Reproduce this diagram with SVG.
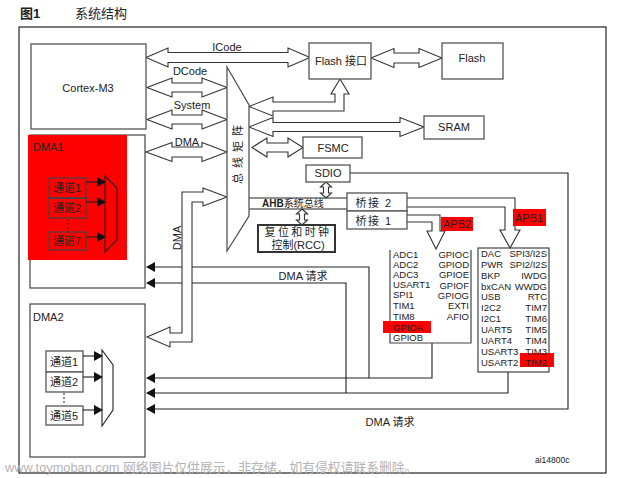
<svg xmlns="http://www.w3.org/2000/svg" width="618" height="478" viewBox="0 0 618 478">
<defs>
<style>
.t{font-family:"Liberation Sans","Noto Sans CJK SC",sans-serif;font-size:11px;fill:#222}
.s{font-size:9.5px}
.m{text-anchor:middle}
.e{text-anchor:end}
.box{fill:#fff;stroke:#555;stroke-width:1.3}
.nb{fill:none;stroke:#444;stroke-width:1.2}
.ln{fill:none;stroke:#222;stroke-width:1.1}
.ha{fill:#fff;stroke:#333;stroke-width:1.1;stroke-linejoin:miter}
.red{fill:#ff0000}
</style>
<marker id="ah" markerWidth="9" markerHeight="10" refX="8" refY="5" orient="auto" markerUnits="userSpaceOnUse">
<path d="M0,0 L9,5 L0,10 Z" fill="#111"/>
</marker>
</defs>
<rect width="618" height="478" fill="#fff"/>
<text class="t" x="20" y="18" style="font-size:13px;font-weight:bold">图1</text>
<text class="t" x="75" y="18" style="font-size:13px">系统结构</text>
<rect x="19" y="27" width="587" height="446" fill="none" stroke="#333" stroke-width="1.3"/>

<g id="connectors">
<polygon class="ha" points="146,57.5 168,48 168,52.5 288,52.5 288,48 310,57.5 288,67 288,62.5 168,62.5 168,67"/>
<polygon class="ha" points="147,87.5 172,78 172,83 202,83 202,78 227,87.5 202,97 202,92 172,92 172,97"/>
<polygon class="ha" points="147,119.5 172,110 172,115 202,115 202,110 227,119.5 202,129 202,124 172,124 172,129"/>
<polygon class="ha" points="146,152 172,142.5 172,147 202,147 202,142.5 227,152 202,161.5 202,157 172,157 172,161.5"/>
<polygon class="ha" points="371,58 394,48.5 394,53 419,53 419,48.5 442,58 419,67.5 419,63 394,63 394,67.5"/>
<polygon class="ha" points="249,106.5 273,97 273,102 335,102 335,94 331,94 340,79 349,94 344,94 344,111 273,111 273,116"/>
<polygon class="ha" points="249,127 273,117.5 273,122.5 400,122.5 400,117.5 424,127 400,136.5 400,131.5 273,131.5 273,136.5"/>
<polygon class="ha" points="252,147.5 267,138 267,143 288,143 288,138 303,147.5 288,157 288,152 267,152 267,157"/>
<polygon class="ha" points="326,182 331.5,187 328.5,187 328.5,193 331.5,193 326,198 320.5,193 323.5,193 323.5,187 320.5,187"/>
<polygon class="ha" points="302,209 307.5,214 304.5,214 304.5,220 307.5,220 302,225 296.5,220 299.5,220 299.5,214 296.5,214"/>
<path class="ha" d="M407,198 H515 V230 H520 L510,248 L500,230 H505 V207 H407"/>
<path class="ha" d="M407,215 H440 V231 H445 L436,249 L427,231 H432 V222 H407"/>
<line class="ln" x1="249" y1="198" x2="347" y2="198"/>
<line class="ln" x1="249" y1="209" x2="347" y2="209"/>
<path class="ln" d="M432,343 V378 H147" marker-end="url(#ah)"/>
<path class="ln" d="M369,378 V267 H147" marker-end="url(#ah)"/>
<path class="ln" d="M508,372 V393 H147" marker-end="url(#ah)"/>
<path class="ln" d="M346,393 V283 H147" marker-end="url(#ah)"/>
<path class="ln" d="M350,173 H568 V409 H147" marker-end="url(#ah)"/>
<polygon class="ha" points="227,197 203,188 203,192 182,192 182,333 170,333 170,327 147,337 170,347 170,342 192,342 192,202 203,202 203,206"/>
</g>

<text class="t m" x="227" y="51">ICode</text>
<text class="t m" x="190" y="75">DCode</text>
<text class="t m" x="192" y="109">System</text>
<text class="t m" x="187" y="146">DMA</text>
<text class="t m" transform="translate(181,238) rotate(-90)">DMA</text>
<text class="t m" x="303" y="280">DMA 请求</text>
<text class="t m" x="390" y="426">DMA 请求</text>
<text class="t" x="262" y="207" style="font-size:10px"><tspan style="font-weight:bold">AHB</tspan>系统总线</text>

<g id="cortex"><rect class="box" x="31" y="44" width="115" height="85"/><text class="t m" x="88" y="92">Cortex-M3</text></g>
<g id="busmatrix"><polygon class="box" points="227,67 249,105 249,216 227,251"/><text class="t" transform="translate(242,184) rotate(-90)" style="letter-spacing:5px">总线矩阵</text></g>
<g id="flashif"><rect class="box" x="309" y="43" width="62" height="36"/><text class="t m" x="341" y="65">Flash 接口</text></g>
<g id="flash"><rect class="box" x="442" y="43" width="61" height="36"/><text class="t m" x="472" y="62">Flash</text></g>
<g id="sram"><rect class="box" x="424" y="116" width="60" height="23"/><text class="t m" x="454" y="131">SRAM</text></g>
<g id="fsmc"><rect class="box" x="303" y="137" width="59" height="21"/><text class="t m" x="333" y="152">FSMC</text></g>
<g id="sdio"><rect class="box" x="306" y="165" width="44" height="17"/><text class="t m" x="328" y="177">SDIO</text></g>
<g id="bridge2"><rect class="box" x="347" y="193" width="60" height="18"/><text class="t m" x="374" y="207" style="letter-spacing:1.5px">桥接 2</text></g>
<g id="bridge1"><rect class="box" x="347" y="211" width="60" height="18"/><text class="t m" x="374" y="225" style="letter-spacing:1.5px">桥接 1</text></g>
<g id="rcc"><rect x="258" y="225" width="77" height="27" fill="#fff" stroke="#333" stroke-width="2"/>
<text class="t m" x="298" y="236" style="letter-spacing:2.4px">复位和时钟</text><text class="t m" x="298" y="249">控制(RCC)</text></g>

<g id="dma1">
<rect class="nb" x="30" y="135" width="115" height="153"/>
<rect class="red" x="28" y="135" width="99" height="125"/>
<text class="t" x="33" y="151">DMA1</text>
<rect class="nb" x="49" y="178" width="37" height="20" stroke="#222"/>
<rect class="nb" x="49" y="198" width="37" height="20" stroke="#222"/>
<rect class="nb" x="49" y="232" width="37" height="18" stroke="#222"/>
<text class="t m" x="67" y="192">通道1</text>
<text class="t m" x="67" y="212">通道2</text>
<text class="t m" x="67" y="245">通道7</text>
<line x1="68" y1="219" x2="68" y2="231" stroke="#222" stroke-dasharray="2,2"/>
<line class="ln" x1="86" y1="182" x2="105" y2="182" marker-end="url(#ah)"/>
<line class="ln" x1="86" y1="202" x2="105" y2="202" marker-end="url(#ah)"/>
<line class="ln" x1="86" y1="237" x2="105" y2="237" marker-end="url(#ah)"/>
<polygon points="105,176 117,188 117,240 105,252" fill="none" stroke="#222" stroke-width="1.1"/>
</g>

<g id="dma2">
<rect class="nb" x="30" y="304" width="115" height="153"/>
<text class="t" x="33" y="321">DMA2</text>
<rect class="box" x="46" y="351" width="37" height="21" stroke="#333"/>
<rect class="box" x="46" y="372" width="37" height="20" stroke="#333"/>
<rect class="box" x="46" y="406" width="37" height="19" stroke="#333"/>
<text class="t m" x="64" y="366">通道1</text>
<text class="t m" x="64" y="386">通道2</text>
<text class="t m" x="64" y="420">通道5</text>
<line x1="64" y1="393" x2="64" y2="405" stroke="#222" stroke-dasharray="2,2"/>
<line class="ln" x1="83" y1="356" x2="102" y2="356" marker-end="url(#ah)"/>
<line class="ln" x1="83" y1="377" x2="102" y2="377" marker-end="url(#ah)"/>
<line class="ln" x1="83" y1="410" x2="102" y2="410" marker-end="url(#ah)"/>
<polygon points="102,350 113,365 113,410 102,426" fill="none" stroke="#222" stroke-width="1.1"/>
</g>

<g id="apb2">
<path class="nb" d="M390,250 V343 H471 V250"/>
<rect class="red" x="383" y="321" width="48" height="12"/>
<rect class="red" x="441" y="217" width="32" height="14"/>
<text class="t" x="443" y="228">APB2</text>
<g class="t s">
<text x="393" y="258">ADC1</text><text x="393" y="268">ADC2</text><text x="393" y="278">ADC3</text>
<text x="393" y="288">USART1</text><text x="393" y="298">SPI1</text><text x="393" y="309">TIM1</text>
<text x="393" y="320">TIM8</text><text x="393" y="331">GPIOA</text><text x="393" y="341">GPIOB</text>
<text class="e" x="469" y="258">GPIOC</text><text class="e" x="469" y="268">GPIOD</text><text class="e" x="469" y="278">GPIOE</text>
<text class="e" x="469" y="289">GPIOF</text><text class="e" x="469" y="299">GPIOG</text><text class="e" x="469" y="309">EXTI</text>
<text class="e" x="469" y="320">AFIO</text>
</g>
</g>

<g id="apb1">
<rect class="nb" x="478" y="248" width="71" height="124"/>
<rect class="red" x="520" y="353" width="34" height="14"/>
<rect class="red" x="513" y="209" width="33" height="17"/>
<text class="t" x="515" y="222">APB1</text>
<g class="t s">
<text x="481" y="257">DAC</text><text x="481" y="268">PWR</text><text x="481" y="279">BKP</text>
<text x="481" y="290">bxCAN</text><text x="481" y="300">USB</text><text x="481" y="311">I2C2</text>
<text x="481" y="322">I2C1</text><text x="481" y="333">UART5</text><text x="481" y="344">UART4</text>
<text x="481" y="355">USART3</text><text x="481" y="366">USART2</text>
<text class="e" x="547" y="257">SPI3/I2S</text><text class="e" x="547" y="268">SPI2/I2S</text><text class="e" x="547" y="279">IWDG</text>
<text class="e" x="547" y="290">WWDG</text><text class="e" x="547" y="300">RTC</text><text class="e" x="547" y="311">TIM7</text>
<text class="e" x="547" y="322">TIM6</text><text class="e" x="547" y="333">TIM5</text><text class="e" x="547" y="344">TIM4</text>
<text class="e" x="547" y="355">TIM3</text><text class="e" x="547" y="366">TIM2</text>
</g>
</g>

<text class="t" x="535" y="463" style="font-size:8.5px">ai14800c</text>
<text class="t" x="5" y="472" style="font-size:12.8px;fill:#b4b4b4">www.toymoban.com 网络图片仅供展示，非存储，如有侵权请联系删除。</text>
</svg>
